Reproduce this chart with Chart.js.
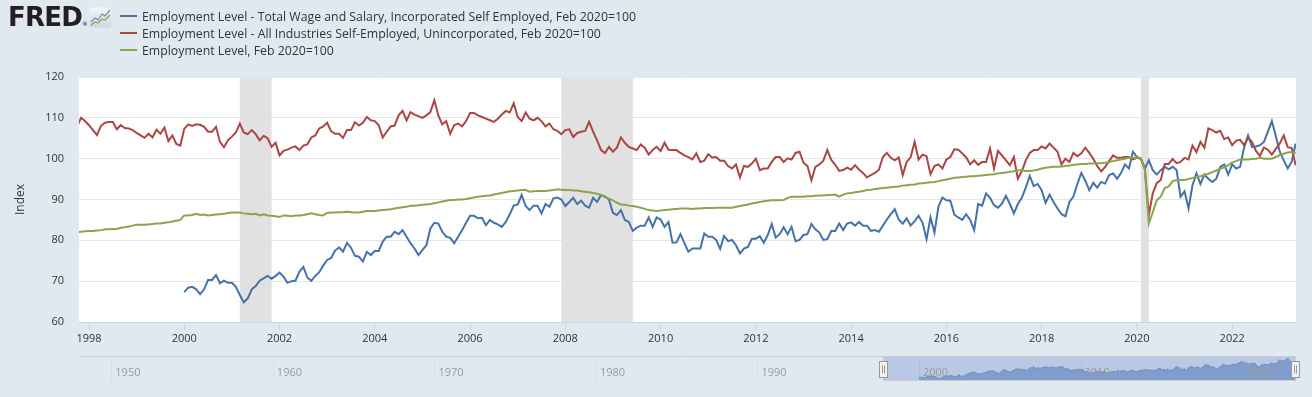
<!DOCTYPE html>
<html>
<head>
<meta charset="utf-8">
<script src="https://cdn.jsdelivr.net/npm/chart.js@4.4.1/dist/chart.umd.min.js"></script>
<style>
  body { margin: 0; background: #e1e9f0; font-family: 'Open Sans', sans-serif; }
  #wrap { position: relative; width: 1312px; height: 397px; overflow: hidden; }
  canvas { position: absolute; }
  .logo { position: absolute; left: 8px; top: 4px; font: bold 26px 'DejaVu Sans', sans-serif; line-height: 26px; color: #231f20; letter-spacing: -0.8px; }
  .logo sup { font-size: 6px; font-weight: normal; vertical-align: 0; letter-spacing: 0; }
  .icon { position: absolute; left: 89px; top: 7px; }
  .sw { position: absolute; left: 120px; width: 17px; height: 2px; }
  .lg { position: absolute; left: 142px; font-size: 12.3px; line-height: 17px; color: #333; white-space: nowrap; }
</style>
</head>
<body>
<div id="wrap">
  <canvas id="mainChart" width="1312" height="397" style="left:0;top:0"></canvas>
  <canvas id="navChart" width="1240" height="40" style="left:70px;top:350px"></canvas>
  <div class="logo">FRED<sup>®</sup></div>
  <svg class="icon" width="23" height="21" viewBox="0 0 23 21">
    <defs><linearGradient id="g" x1="0" y1="0" x2="0" y2="1"><stop offset="0" stop-color="#f4f6f8"/><stop offset="1" stop-color="#cfd6de"/></linearGradient></defs>
    <rect x="0.5" y="0.5" width="22" height="20" rx="3" fill="url(#g)"/>
    <polyline points="2,15 6,11 9,13 13,7 16,9 21,3" fill="none" stroke="#6b8cc1" stroke-width="1.2"/>
    <polyline points="2,18 6,15 9,16 13,12 16,13 21,8" fill="none" stroke="#89a54e" stroke-width="1.2"/>
  </svg>
  <div class="sw" style="top:15px;background:#4572a7"></div>
  <div class="sw" style="top:32px;background:#aa4643"></div>
  <div class="sw" style="top:49px;background:#89a54e"></div>
  <div class="lg" id="lg0" style="top:8px"></div>
  <div class="lg" id="lg1" style="top:25px"></div>
  <div class="lg" id="lg2" style="top:42px"></div>
</div>
<script>
// series names (legend)
const seriesNames = [
  'Employment Level - Total Wage and Salary, Incorporated Self Employed, Feb 2020=100',
  'Employment Level - All Industries Self-Employed, Unincorporated, Feb 2020=100',
  'Employment Level, Feb 2020=100'
];
const seriesColors = ['#4572a7', '#aa4643', '#89a54e'];

// monthly values, blue starts Jan 2000
const blueStart = [2000, 1];
const blueVals = [
  67.3,68.4,68.6,68.0,
  66.8,68.0,70.3,70.3,71.5,69.5,70.1,69.6,69.6,68.6,
  66.6,64.8,65.8,68.0,68.8,70.1,70.7,71.3,70.6,71.3,
  72.1,71.1,69.6,70.0,70.1,72.3,73.5,70.9,70.1,71.3,
  72.2,73.8,75.2,75.7,77.5,78.3,77.2,79.4,78.2,76.2,
  76.0,74.8,77.2,76.4,77.4,77.4,79.7,80.9,80.9,82.1,
  81.5,82.5,80.9,79.3,78.0,76.4,77.6,78.8,82.9,84.3,
  84.1,82.1,80.9,80.6,79.3,80.9,82.5,84.3,86.0,86.0,
  85.4,85.5,83.7,85.0,84.3,83.9,83.3,84.5,86.4,88.5,
  88.8,91.1,88.4,87.4,88.5,88.5,86.6,88.9,88.2,90.3,
  90.5,90.0,88.4,89.4,90.4,88.9,89.7,88.5,88.0,90.4,
  89.4,91.1,90.7,90.0,86.7,86.2,87.4,85.0,84.5,82.3,
  83.1,83.6,83.6,85.6,83.3,85.6,85.1,83.3,84.5,79.4,
  79.5,81.5,79.3,77.2,78.0,78.0,78.0,81.7,80.9,80.9,
  80.1,77.9,81.1,79.8,80.1,78.8,76.8,78.0,78.4,80.4,
  80.4,81.0,79.4,81.3,84.0,80.7,81.5,83.2,81.5,83.3,
  79.8,80.1,81.3,81.5,84.0,82.7,81.9,80.1,80.3,82.3,
  82.3,84.1,82.5,84.1,84.4,83.6,84.5,83.6,83.6,82.3,
  82.5,82.1,83.6,85.1,86.4,87.6,85.1,84.1,85.4,83.6,
  84.7,86.0,84.3,80.3,85.6,81.9,88.2,90.5,89.8,89.7,
  86.3,85.6,85.0,86.4,85.0,82.5,88.9,88.5,91.5,90.4,
  88.6,88.0,89.0,90.9,88.9,86.6,88.9,90.4,92.9,95.8,
  93.3,93.8,92.3,89.2,91.2,89.4,87.8,86.4,85.9,89.4,
  90.7,93.8,96.5,94.6,92.3,94.1,92.9,94.3,93.9,96.0,
  96.4,95.1,96.5,98.6,97.6,101.7,100.4,100.0,97.6,99.6,
  97.2,96.1,97.2,98.0,97.4,98.0,97.2,90.7,92.0,87.8,
  93.5,96.4,93.8,96.1,95.1,94.3,95.1,98.0,98.6,96.1,
  98.6,97.6,98.0,102.7,105.7,102.9,103.0,103.3,104.1,106.6,
  109.2,105.5,101.7,99.6,97.6,99.3,103.7
];

// red and green start Oct 1997 (first month sits just left of the plot edge)
const redStart = [1997, 10];
const redVals = [
  107.9,
  110.0,109.2,108.2,107.0,105.8,108.0,108.8,109.0,109.0,107.2,
  108.2,107.5,107.4,107.0,106.3,105.7,105.1,106.1,105.2,107.1,
  106.1,107.6,104.3,105.7,103.6,103.2,107.3,108.4,108.0,108.4,
  108.3,107.8,106.6,106.6,107.8,104.1,102.8,104.5,105.4,106.4,
  108.6,106.4,106.0,107.0,106.0,104.5,105.6,105.0,102.9,103.9,
  100.8,101.9,102.2,102.7,103.0,102.1,103.2,103.5,105.2,105.7,
  107.4,107.9,108.8,106.7,106.1,106.1,105.1,107.0,107.0,108.9,
  108.1,108.8,110.2,109.4,109.2,108.2,105.2,106.6,107.9,108.1,
  110.6,111.7,109.4,111.4,110.8,110.4,110.0,110.6,111.4,114.3,
  110.6,108.4,109.2,106.1,108.2,108.6,107.9,109.2,111.2,111.2,
  110.6,110.2,109.8,109.4,109.0,109.8,110.8,111.7,111.3,113.6,
  110.2,109.2,111.3,109.8,109.4,110.0,109.2,107.9,108.6,107.2,
  106.8,106.0,107.0,107.2,105.3,106.3,106.6,106.8,109.0,106.6,
  104.5,102.1,101.4,102.9,101.7,102.7,105.2,103.9,102.9,102.5,
  102.1,103.5,102.7,101.0,102.1,102.9,101.9,103.9,102.2,102.1,
  102.1,101.4,100.8,100.4,99.8,101.3,99.2,99.5,101.1,100.3,
  100.4,99.5,99.5,98.2,97.6,98.6,95.4,98.2,98.0,98.8,
  100.0,97.2,97.6,97.6,99.2,100.4,100.4,99.2,100.1,99.8,
  101.4,101.7,99.0,98.2,94.7,98.0,98.6,99.5,102.1,99.7,
  98.5,97.0,97.2,97.8,97.3,98.4,97.3,96.5,95.4,96.0,
  96.5,97.3,100.4,101.4,100.2,99.6,100.3,96.0,99.2,100.4,
  104.1,99.8,101.0,100.6,96.2,98.2,98.6,97.6,99.8,100.4,
  102.3,102.2,101.3,100.3,98.6,99.6,98.5,99.2,99.2,102.5,
  97.6,101.9,100.8,99.6,98.4,100.4,95.1,96.9,99.6,101.4,
  102.1,102.1,103.0,102.5,103.7,102.7,101.7,98.6,100.0,99.2,
  101.4,100.6,101.3,102.7,101.4,100.0,98.2,96.9,98.0,99.4,
  100.8,100.2,100.2,100.4,100.4,99.8,100.2,100.0,97.5,86.2,
  91.5,94.0,94.8,98.7,98.7,99.9,98.9,99.2,100.2,99.8,
  103.2,101.6,104.1,102.7,107.4,107.0,106.4,106.8,104.8,105.2,
  103.3,104.4,104.6,103.3,105.2,104.1,101.9,100.7,102.7,102.2,
  101.0,102.4,103.7,105.7,102.8,102.6,98.4
];

const greenStart = [1997, 10];
const greenVals = [
  82.0,
  82.1,82.2,82.3,82.3,82.4,82.5,82.7,82.7,82.8,82.8,
  83.1,83.2,83.4,83.6,83.8,83.8,83.8,83.9,84.0,84.1,
  84.1,84.3,84.4,84.6,84.8,85.0,86.1,86.1,86.2,86.5,
  86.2,86.3,86.1,86.2,86.3,86.4,86.5,86.7,86.8,86.8,
  86.8,86.6,86.5,86.4,86.5,86.1,86.4,86.1,86.0,85.9,
  85.7,86.1,86.0,85.9,86.1,86.1,86.2,86.4,86.6,86.4,
  86.2,86.1,86.7,86.8,86.8,86.9,86.9,87.0,86.9,86.8,
  86.8,87.0,87.2,87.2,87.2,87.3,87.4,87.5,87.6,87.8,
  88.0,88.1,88.2,88.5,88.5,88.6,88.7,88.8,88.9,89.1,
  89.3,89.5,89.7,89.9,89.9,90.0,90.0,90.1,90.3,90.5,
  90.7,90.8,90.9,91.0,91.2,91.4,91.6,91.8,92.0,92.1,
  92.2,92.3,92.3,91.9,92.0,92.1,92.1,92.1,92.2,92.3,
  92.5,92.4,92.3,92.3,92.2,92.2,92.0,91.9,91.8,91.6,
  91.4,91.1,90.6,90.2,89.8,89.2,88.8,88.7,88.5,88.4,
  88.2,88.0,87.7,87.4,87.3,87.2,87.3,87.4,87.5,87.6,
  87.7,87.8,87.8,87.8,87.7,87.8,87.8,87.9,87.9,87.9,
  88.0,88.0,88.0,88.0,88.0,88.2,88.4,88.6,88.8,89.0,
  89.2,89.4,89.6,89.7,89.8,89.8,89.8,89.9,90.4,90.7,
  90.7,90.7,90.7,90.8,90.8,90.9,91.0,91.0,91.1,91.1,
  91.2,90.7,91.2,91.5,91.6,91.8,91.9,92.1,92.3,92.4,
  92.6,92.7,92.8,92.9,93.0,93.1,93.2,93.4,93.5,93.6,
  93.7,93.9,94.0,94.1,94.2,94.3,94.5,94.7,94.9,95.1,
  95.3,95.4,95.5,95.6,95.7,95.7,95.8,95.9,96.0,96.1,
  96.2,96.4,96.5,96.6,96.8,96.9,97.1,97.2,97.0,97.0,
  97.1,97.3,97.6,97.8,97.9,98.0,98.0,98.1,98.2,98.3,
  98.5,98.6,98.7,98.7,98.8,98.8,98.9,98.9,99.0,99.2,
  99.4,99.6,99.8,100.0,100.2,100.3,100.2,100.0,97.3,84.1,
  86.9,89.8,90.7,92.8,93.2,94.5,94.7,94.8,94.8,95.0,
  95.3,95.5,95.7,96.0,96.3,96.7,97.1,97.5,97.9,98.4,
  99.1,99.4,99.8,99.8,99.8,99.9,100.0,100.2,100.0,100.0,
  100.0,100.4,100.9,101.2,101.5,101.6,101.4
];

// axis ranges and ticks (years as decimals)
const xMin = 1997.79;
const xMax = 2023.34;
const xTickYears = [1998, 2000, 2002, 2004, 2006, 2008, 2010, 2012, 2014, 2016, 2018, 2020, 2022];
const navMin = 1948.0;
const navTickYears = [1950, 1960, 1970, 1980, 1990, 2000, 2010, 2020];

// recessions (decimal years)
const recessionStarts = [2001 + 2 / 12, 2007 + 11 / 12, 2020 + 1 / 12];
const recessionEnds = [2001 + 10 / 12, 2009 + 5 / 12, 2020 + 3 / 12];

function toPoints(vals, start) {
  return vals.map((v, i) => ({ x: start[0] + (start[1] - 1 + i) / 12, y: v }));
}

seriesNames.forEach((n, i) => { document.getElementById('lg' + i).textContent = n; });

Chart.defaults.font.family = "'Open Sans', sans-serif";

// white plot area
const plotBg = {
  id: 'plotBg',
  beforeDraw(chart) {
    const { ctx, chartArea: a } = chart;
    ctx.save();
    ctx.fillStyle = '#ffffff';
    ctx.fillRect(a.left, a.top, a.right - a.left, a.bottom - a.top);
    ctx.restore();
  }
};

// grey recession bars
const recessionBars = {
  id: 'recessionBars',
  beforeDatasetsDraw(chart) {
    const { ctx, chartArea: a, scales: { x } } = chart;
    ctx.save();
    ctx.fillStyle = '#e1e1e1';
    recessionStarts.forEach((s, i) => {
      const x0 = x.getPixelForValue(s);
      const x1 = x.getPixelForValue(recessionEnds[i]);
      ctx.fillRect(x0, a.top, x1 - x0, a.bottom - a.top);
    });
    ctx.restore();
  }
};

new Chart(document.getElementById('mainChart'), {
  type: 'line',
  data: {
    datasets: [
      { label: seriesNames[0], data: toPoints(blueVals, blueStart), borderColor: seriesColors[0], borderWidth: 2, pointRadius: 0, order: 3 },
      { label: seriesNames[1], data: toPoints(redVals, redStart), borderColor: seriesColors[1], borderWidth: 2, pointRadius: 0, order: 2 },
      { label: seriesNames[2], data: toPoints(greenVals, greenStart), borderColor: seriesColors[2], borderWidth: 2, pointRadius: 0, order: 1 }
    ]
  },
  options: {
    responsive: false,
    animation: false,
    devicePixelRatio: 1,
    layout: { padding: { left: 0, top: 77, right: 16, bottom: 45 } },
    plugins: { legend: { display: false }, tooltip: { enabled: false } },
    scales: {
      x: {
        type: 'linear',
        min: xMin,
        max: xMax,
        afterBuildTicks: s => { s.ticks = xTickYears.map(v => ({ value: v })); },
        afterFit: s => { s.height = 30; },
        ticks: { callback: v => String(v), color: '#333', font: { size: 11 }, padding: 2, maxRotation: 0, autoSkip: false },
        grid: { drawOnChartArea: false, drawTicks: true, tickLength: 8, color: '#ccd6eb' },
        border: { color: '#ccd6eb' }
      },
      y: {
        min: 60,
        max: 120,
        afterFit: s => { s.width = 79; },
        ticks: { stepSize: 10, color: '#333', font: { size: 11 }, padding: 15 },
        grid: { color: '#e6e6e6', drawTicks: false },
        border: { display: false },
        title: { display: true, text: 'Index', color: '#333', font: { size: 12 }, padding: { top: 13.5, bottom: 0 } }
      }
    }
  },
  plugins: [plotBg, recessionBars]
});

// navigator strip under the chart
const navDecor = {
  id: 'navDecor',
  beforeDatasetsDraw(chart) {
    const { ctx, chartArea: a, scales: { x } } = chart;
    const s = x.getPixelForValue(xMin), e = x.getPixelForValue(xMax);
    ctx.save();
    ctx.fillStyle = '#b9c8e4';
    ctx.fillRect(s, a.top, e - s, a.bottom - a.top);
    ctx.strokeStyle = 'rgba(0,0,0,0.035)';
    ctx.lineWidth = 1;
    navTickYears.forEach(yr => {
      const px = Math.round(x.getPixelForValue(yr)) + 0.5;
      ctx.beginPath(); ctx.moveTo(px, a.top); ctx.lineTo(px, a.bottom); ctx.stroke();
    });
    ctx.restore();
  },
  afterDatasetsDraw(chart) {
    const { ctx, chartArea: a, scales: { x } } = chart;
    const s = Math.round(x.getPixelForValue(xMin)) + 0.5;
    const e = Math.round(x.getPixelForValue(xMax)) - 0.5;
    ctx.save();
    ctx.font = "11px 'Open Sans', sans-serif";
    ctx.fillStyle = '#999';
    ctx.textAlign = 'left';
    ctx.textBaseline = 'middle';
    navTickYears.forEach(yr => ctx.fillText(String(yr), x.getPixelForValue(yr) + 4, a.top + 17));
    // outline
    ctx.strokeStyle = '#cccccc';
    ctx.lineWidth = 1;
    ctx.beginPath();
    ctx.moveTo(a.left, a.top + 0.5); ctx.lineTo(a.right, a.top + 0.5);
    ctx.moveTo(s, a.top); ctx.lineTo(s, a.bottom - 0.5); ctx.lineTo(e, a.bottom - 0.5); ctx.lineTo(e, a.top);
    ctx.stroke();
    // handles
    [s, e].forEach(h => {
      const hx = Math.round(h) - 4.5, hy = a.top + 5.5;
      ctx.fillStyle = '#f2f2f2';
      ctx.strokeStyle = '#999';
      ctx.fillRect(hx, hy, 8, 16);
      ctx.strokeRect(hx, hy, 8, 16);
      ctx.beginPath();
      ctx.moveTo(hx + 3, hy + 4); ctx.lineTo(hx + 3, hy + 12);
      ctx.moveTo(hx + 5, hy + 4); ctx.lineTo(hx + 5, hy + 12);
      ctx.stroke();
    });
    ctx.restore();
  }
};

new Chart(document.getElementById('navChart'), {
  type: 'line',
  data: {
    datasets: [{
      data: toPoints(blueVals, blueStart),
      borderColor: '#6b8cc1',
      borderWidth: 1,
      backgroundColor: '#819dcb',
      fill: 'start',
      pointRadius: 0
    }]
  },
  options: {
    responsive: false,
    animation: false,
    devicePixelRatio: 1,
    layout: { padding: { left: 9, right: 14, top: 6, bottom: 9 } },
    plugins: { legend: { display: false }, tooltip: { enabled: false } },
    scales: {
      x: { type: 'linear', display: false, min: navMin, max: xMax },
      y: { display: false, min: 60.4, max: 113.6 }
    }
  },
  plugins: [navDecor]
});
</script>
</body>
</html>
